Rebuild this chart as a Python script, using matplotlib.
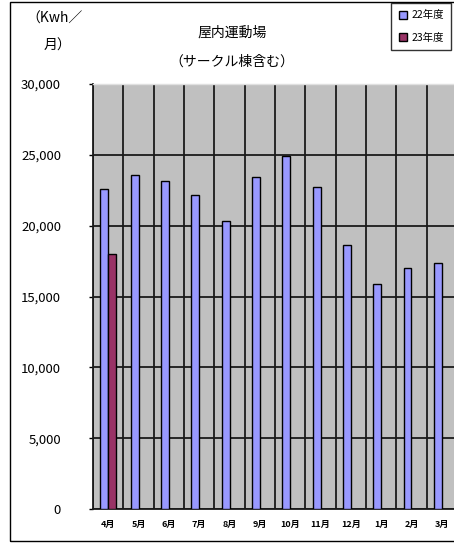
import numpy as np
import matplotlib.pyplot as plt
from matplotlib.patches import Rectangle

plt.rcParams['font.family'] = ['Noto Sans CJK JP', 'DejaVu Sans']

# monthly electricity use (Kwh / month)
months = ['4月', '5月', '6月', '7月', '8月', '9月', '10月', '11月', '12月', '1月', '2月', '3月']
fy22 = [22600, 23600, 23150, 22150, 20300, 23450, 24900, 22750, 18650, 15900, 17000, 17350]
fy23 = [18000]
yticks = [0, 5000, 10000, 15000, 20000, 25000, 30000]

fig = plt.figure(figsize=(4.54, 5.44), dpi=100)
W, H = 454, 544

# outer chart frame
fig.patches.append(Rectangle((10 / W, 1 - 541 / H), 460 / W, 539 / H,
                             transform=fig.transFigure, fill=False,
                             edgecolor='black', linewidth=1.0))

ax = fig.add_axes([93 / W, (H - 509) / H, (457 - 93) / W, (509 - 84) / H])
ax.set_facecolor('#c0c0c0')

x = np.arange(len(months))
w = 0.26
ax.bar(x[:len(fy22)] - w / 2, fy22, w, color='#9999ff', edgecolor='black',
       linewidth=1.0, label='22年度', zorder=3)
ax.bar(x[:len(fy23)] + w / 2, fy23, w, color='#993366', edgecolor='black',
       linewidth=1.0, label='23年度', zorder=3)

ax.set_xlim(-0.5, len(months) - 0.5)
ax.set_ylim(0, 30000)

# category boundaries carry the vertical grid, labels sit at the centres
ax.set_xticks(np.arange(-0.5, len(months) + 0.5, 1))
ax.set_xticklabels([])
ax.set_xticks(x, minor=True)
ax.set_xticklabels(months, minor=True, fontsize=6.5, fontweight='bold')
ax.tick_params(axis='x', which='both', length=0, pad=8)

ax.set_yticks(yticks)
ax.set_yticklabels([f'{v:,}' for v in yticks], fontsize=9.5)
ax.tick_params(axis='y', length=3, width=1, pad=20)

ax.grid(True, which='major', color='#1a1a1a', linewidth=1.3, zorder=1)
ax.set_axisbelow(True)
for s in ['top', 'right']:
    ax.spines[s].set_color('#e0e0e0')
    ax.spines[s].set_linewidth(1)
for s in ['left', 'bottom']:
    ax.spines[s].set_color('#1a1a1a')
    ax.spines[s].set_linewidth(1.3)
ax.yaxis.get_gridlines()[-1].set_visible(False)

fig.text(232 / W, 1 - 33 / H, '屋内運動場', ha='center', va='center', fontsize=10)
fig.text(232 / W, 1 - 62 / H, '（サークル棟含む）', ha='center', va='center', fontsize=10)
fig.text(55 / W, 1 - 19 / H, '（Kwh／', ha='center', va='center', fontsize=10)
fig.text(57 / W, 1 - 46 / H, '月）', ha='center', va='center', fontsize=10)

leg = fig.legend(loc='upper right', bbox_to_anchor=(451 / W, 1 - 3 / H),
                 fontsize=7.5, frameon=True, fancybox=False, handlelength=0.8,
                 handleheight=0.8, handletextpad=0.4, borderpad=0.7,
                 labelspacing=1.2, borderaxespad=0)
leg.get_frame().set_edgecolor('black')
leg.get_frame().set_linewidth(1.0)

fig.savefig('out.png', dpi=100)
